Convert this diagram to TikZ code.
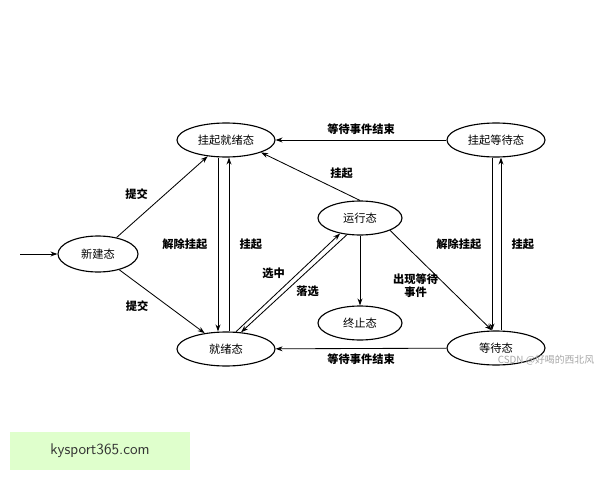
\documentclass[tikz,border=0pt]{standalone}
\usepackage{fontspec}
\newfontfamily\cjk{Noto Sans CJK SC}
\usetikzlibrary{arrows.meta, shapes.geometric}

\begin{document}
\begin{tikzpicture}[x=0.025cm, y=-0.025cm,
    every node/.style={font=\cjk\fontsize{8}{9}\selectfont},
    state/.style={draw, thick, ellipse, minimum width=98*0.025cm, minimum height=34*0.025cm, inner sep=0pt},
    trans/.style={draw, semithick, -{Stealth[length=5pt, width=3.5pt]}},
    lab/.style={font=\cjk\fontsize{8}{9}\selectfont\bfseries}]
    \useasboundingbox (0,0) rectangle (600,480);

    % States
    \node[state] (sready) at (226,140) {挂起就绪态};
    \node[state] (swait) at (496,140) {挂起等待态};
    \node[state, minimum width=84*0.025cm] (run) at (360,218) {运行态};
    \node[state, minimum width=80*0.025cm, minimum height=36*0.025cm] (new) at (98,254) {新建态};
    \node[state, minimum width=84*0.025cm] (term) at (360,323) {终止态};
    \node[state] (ready) at (226,349) {就绪态};
    \node[state] (wait) at (496,348) {等待态};
    \coordinate (start) at (20,254);

    % Transitions
    \draw[trans] (start) -- (new);
    \draw[trans] (new) -- (sready) node[lab, pos=0.4, above left] {提交};
    \draw[trans] (new) -- (ready) node[lab, pos=0.4, below left] {提交};
    \draw[trans] ([xshift=-8*0.025cm]sready.south) -- ([xshift=-8*0.025cm]ready.north)
        node[lab, midway, left=4pt] {解除挂起};
    \draw[trans] ([xshift=3*0.025cm]ready.north) -- ([xshift=3*0.025cm]sready.south)
        node[lab, midway, right=4pt] {挂起};
    \draw[trans] (swait) -- (sready) node[lab, midway, above] {等待事件结束};
    \draw[trans] (run.north) -- (sready.south east) node[lab, pos=0.35, above right] {挂起};
    \draw[trans] (ready.60) -- (run.218)
        node[lab, pos=0.6, left=6pt] {选中};
    \draw[trans] (run.232) -- (ready.48)
        node[lab, pos=0.58, right=4pt] {落选};
    \draw[trans] (run) -- (term);
    \draw[trans] (run.south east) -- ([xshift=-4*0.025cm]wait.north)
        node[lab, pos=0.55, left=2pt, align=center] {出现等待\\事件};
    \draw[trans] ([xshift=-4*0.025cm]swait.south) -- ([xshift=-4*0.025cm]wait.north)
        node[lab, midway, left=4pt] {解除挂起};
    \draw[trans] ([xshift=5*0.025cm]wait.north) -- ([xshift=5*0.025cm]swait.south)
        node[lab, midway, right=4pt] {挂起};
    \draw[trans] (wait) -- (ready) node[lab, midway, below] {等待事件结束};

    % Watermark and badge
    \node[text=black!35, font=\cjk\fontsize{7}{8}\selectfont] (mark) at (546,360) {CSDN @好喝的西北风};
    \node[fill=green!50!lime!20, minimum width=180*0.025cm, minimum height=38*0.025cm,
        font=\sffamily\fontsize{11}{12}\selectfont, text=black!80] (badge) at (100,451) {kysport365.com};
\end{tikzpicture}
\end{document}
